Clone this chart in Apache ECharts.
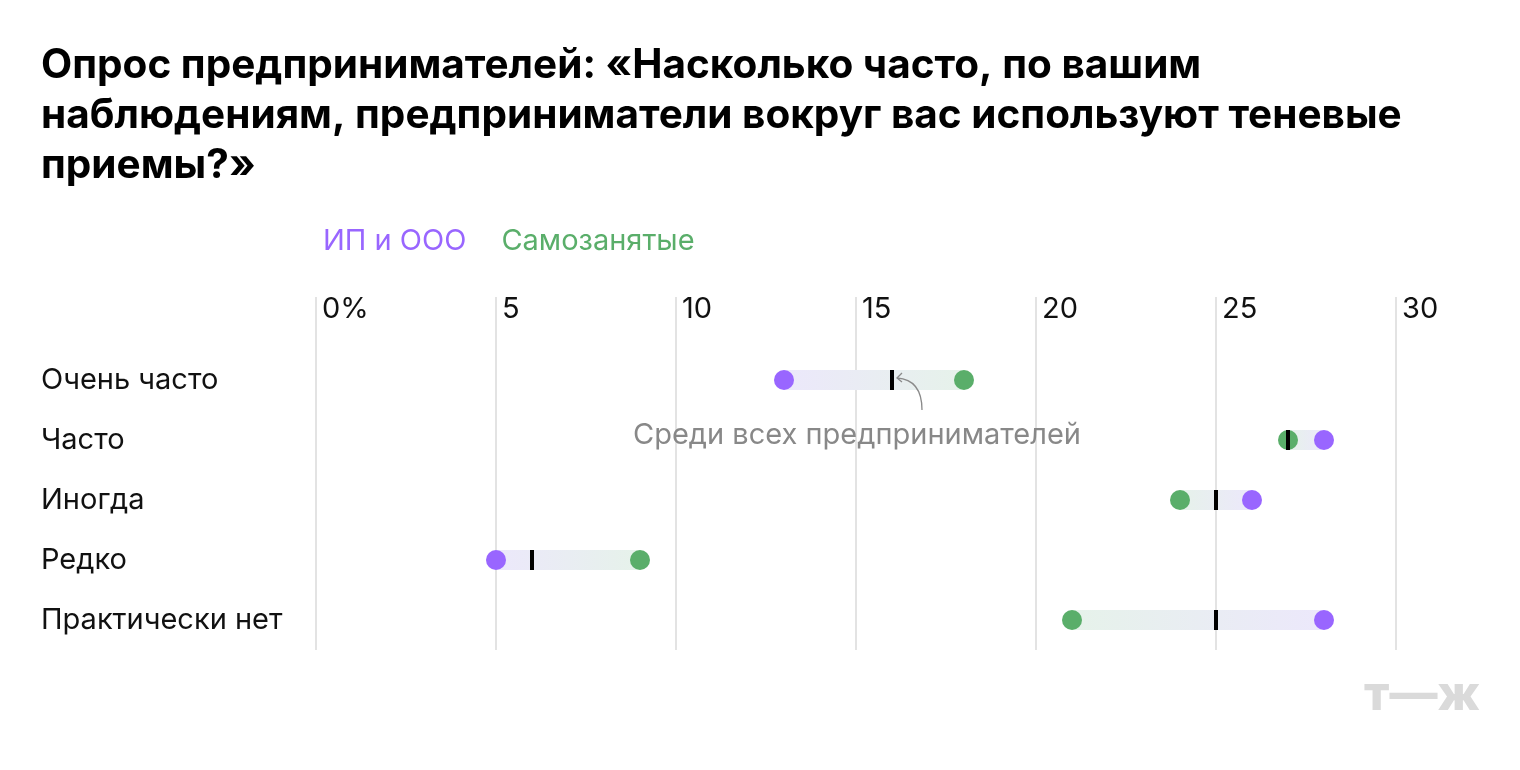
<!DOCTYPE html>
<html><head><meta charset="utf-8">
<script src="https://cdn.jsdelivr.net/npm/echarts@6/dist/echarts.min.js"></script>
<style>html,body{margin:0;padding:0;background:#fff}#c{width:1520px;height:770px}</style>
</head><body><div id="c"></div>
<script>
const categories = ['Очень часто', 'Часто', 'Иногда', 'Редко', 'Практически нет'];
const ipOoo = [13, 28, 26, 5, 28];
const selfEmployed = [18, 27, 24, 9, 21];
const allEntrepreneurs = [16, 27, 25, 6, 25];
const xTicks = [0, 5, 10, 15, 20, 25, 30];
const seriesNames = ['ИП и ООО', 'Самозанятые'];
const titleText = 'Опрос предпринимателей: «Насколько часто, по вашим\nнаблюдениям, предприниматели вокруг вас используют теневые\nприемы?»';
const annotationText = 'Среди всех предпринимателей';

const PURPLE = '#9966ff', GREEN = '#5aae6a';
const PURPLE_L = '#ece8fb', GREEN_L = '#e6f2ea';
const FONT = 'Inter, "Noto Sans", sans-serif';
const FS = 29;
const LS = 0.9;

const chart = echarts.init(document.getElementById('c'));
const rangeData = categories.map((c, i) => [i, ipOoo[i], selfEmployed[i]]);

const option = {
  animation: false,
  textStyle: { fontFamily: FONT },
  title: {
    text: titleText, left: 36, top: 36,
    textStyle: { fontSize: 40.5, fontWeight: 700, lineHeight: 50, color: '#000', fontFamily: FONT }
  },
  legend: {
    left: 313, top: 222, icon: 'none', itemWidth: 0, itemHeight: 0, itemGap: 30,
    selectedMode: false,
    data: [
      { name: seriesNames[0], textStyle: { color: PURPLE } },
      { name: seriesNames[1], textStyle: { color: GREEN } }
    ],
    textStyle: { fontSize: FS, fontFamily: FONT, letterSpacing: LS + 0.3 }
  },
  grid: { left: 316, right: 124, top: 350, bottom: 120 },
  xAxis: {
    type: 'value', position: 'top', min: 0, max: 30, interval: 5,
    axisLine: { show: false },
    axisTick: { show: true, length: 53, lineStyle: { color: '#e3e3e3', width: 2 } },
    splitLine: { show: true, lineStyle: { color: '#e3e3e3', width: 2 } },
    axisLabel: {
      margin: 26, align: 'left', padding: [0, 0, 0, 6], fontSize: FS, color: '#111', fontFamily: FONT,
      letterSpacing: LS,
      formatter: v => xTicks.indexOf(v) === 0 ? v + '%' : String(v)
    }
  },
  yAxis: {
    type: 'category', data: categories, inverse: true,
    axisLine: { show: false }, axisTick: { show: false }, splitLine: { show: false },
    axisLabel: { align: 'left', margin: 275, fontSize: FS, color: '#111', fontFamily: FONT, letterSpacing: LS }
  },
  series: [
    {
      type: 'custom', name: 'range', data: rangeData, z: 1,
      encode: { x: [1, 2], y: 0 },
      renderItem: function (params, api) {
        const idx = api.value(0);
        const p1 = api.coord([api.value(1), idx]);
        const p2 = api.coord([api.value(2), idx]);
        const h = 20;
        const x0 = Math.min(p1[0], p2[0]), x1 = Math.max(p1[0], p2[0]);
        return {
          type: 'rect',
          shape: { x: x0, y: p1[1] - h / 2, width: x1 - x0, height: h },
          style: {
            fill: new echarts.graphic.LinearGradient(p1[0], 0, p2[0], 0,
              [{ offset: 0, color: PURPLE_L }, { offset: 1, color: GREEN_L }], true)
          }
        };
      }
    },
    {
      type: 'scatter', name: 'all', data: allEntrepreneurs.map((v, i) => [v, i]), z: 3,
      symbol: 'rect', symbolSize: [4, 20], itemStyle: { color: '#000', opacity: 1 }
    },
    {
      type: 'scatter', name: seriesNames[0], data: ipOoo.map((v, i) => [v, i]), z: 2,
      symbolSize: 20, itemStyle: { color: PURPLE, opacity: 1 }
    },
    {
      type: 'scatter', name: seriesNames[1], data: selfEmployed.map((v, i) => [v, i]), z: 2,
      symbolSize: 20, itemStyle: { color: GREEN, opacity: 1 }
    }
  ]
};
chart.setOption(option);

// annotation anchored to the "all entrepreneurs" mark of the first row
const anchor = chart.convertToPixel({ seriesIndex: 1 }, [allEntrepreneurs[0], 0]);
const ax = anchor[0] + 5, ay = anchor[1] - 2;
const sx = anchor[0] + 30, sy = anchor[1] + 30;
chart.setOption({
  graphic: [
    {
      type: 'text', z: 100, x: anchor[0] - 35, y: anchor[1] + 55,
      style: { text: annotationText, fontSize: FS, fill: '#888', fontFamily: FONT, letterSpacing: LS,
        align: 'center', verticalAlign: 'middle' }
    },
    {
      type: 'bezierCurve', z: 100,
      shape: { x1: sx, y1: sy, cpx1: sx, cpy1: sy - 22, cpx2: sx - 10, cpy2: ay + 1, x2: ax, y2: ay },
      style: { stroke: '#8a8a8a', lineWidth: 1.3, fill: null }
    },
    {
      type: 'polyline', z: 100,
      shape: { points: [[ax + 5, ay - 5], [ax, ay], [ax + 5, ay + 4]] },
      style: { stroke: '#8a8a8a', lineWidth: 1.3, fill: null }
    },
    {
      type: 'text', z: 100, right: 40, top: 672,
      style: { text: 'т—ж', fontSize: 48, fontWeight: 800, fill: '#dadada', fontFamily: 'Inter, sans-serif' }
    }
  ]
});
</script></body></html>
